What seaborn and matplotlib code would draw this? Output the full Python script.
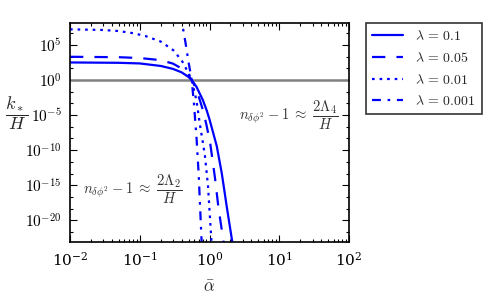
import numpy as np
import pandas as pd
import matplotlib
matplotlib.use("Agg")
import matplotlib.pyplot as plt
import matplotlib.ticker as mticker
import seaborn as sns

# ---- data (alpha, log10(k*/H)) ----
alpha_l01 = [0.01, 0.05, 0.1, 0.2, 0.3, 0.4, 0.5, 0.556, 0.65, 0.8, 0.91, 1.0, 1.27, 1.5, 1.77, 2.13, 2.2]
logk_l01 = [2.52, 2.47, 2.38, 2.02, 1.6, 1.1, 0.45, 0.0, -0.95, -2.8, -4.3, -5.6, -9.4, -13.3, -18.1, -23.2, -24.5]

alpha_l005 = [0.01, 0.05, 0.1, 0.2, 0.3, 0.4, 0.5, 0.556, 0.65, 0.8, 0.9, 1.02, 1.2, 1.34, 1.58, 1.65]
logk_l005 = [3.33, 3.27, 3.15, 2.85, 2.35, 1.65, 0.7, 0.0, -1.3, -4.2, -6.3, -8.9, -14.0, -18.1, -22.9, -24.5]

alpha_l001 = [0.01, 0.03, 0.05, 0.08, 0.12, 0.2, 0.3, 0.4, 0.5, 0.556, 0.65, 0.73, 0.8, 0.86, 0.95, 1.07, 1.1]
logk_l001 = [7.25, 7.15, 7.0, 6.7, 6.3, 5.5, 4.3, 2.8, 1.0, 0.0, -2.9, -6.4, -8.8, -10.8, -15.0, -23.2, -24.5]

alpha_l0001 = [0.38, 0.42, 0.45, 0.5, 0.556, 0.6, 0.655, 0.7, 0.77, 0.8]
logk_l0001 = [9.5, 7.2, 5.5, 2.6, 0.0, -3.5, -8.6, -13.5, -23.0, -25.0]

labels = [r"$\lambda\, =\, 0.1$", r"$\lambda\, =\, 0.05$", r"$\lambda\, =\, 0.01$", r"$\lambda\, =\, 0.001$"]
styles = ["-", (0, (6, 5)), (0, (1.2, 2.2)), (0, (4, 3, 1.2, 3))]
series = [(alpha_l01, logk_l01), (alpha_l005, logk_l005), (alpha_l001, logk_l001), (alpha_l0001, logk_l0001)]

y_major_exp = [-20, -15, -10, -5, 0, 5]

sns.set_style("ticks")
plt.rcParams["mathtext.fontset"] = "cm"
plt.rcParams["font.family"] = ["DejaVu Serif"]

fig = plt.figure(figsize=(4.86, 2.95), dpi=100)
ax = fig.add_axes([70 / 486, 1 - 242 / 295, (349 - 70) / 486, (242 - 23) / 295])

ax.axhline(1.0, color="#808080", lw=1.8, zorder=1)

for (a, lk), lab, ls in zip(series, labels, styles):
    df = pd.DataFrame({"alpha": a, "k": np.power(10.0, lk)})
    sns.lineplot(data=df, x="alpha", y="k", ax=ax, color="blue", lw=1.6,
                 linestyle=ls, label=lab, sort=False, estimator=None)

ax.set_xscale("log")
ax.set_yscale("log")
ax.set_xlim(1e-2, 1e2)
ax.set_ylim(10 ** -23.1, 10 ** 8.15)

ax.yaxis.set_major_locator(mticker.FixedLocator([10.0 ** e for e in y_major_exp]))
ax.yaxis.set_major_formatter(mticker.FixedFormatter([r"$10^{%d}$" % e for e in y_major_exp]))
minor_y = []
for e in range(-25, 10, 5):
    minor_y += [10.0 ** (e + 1.67), 10.0 ** (e + 3.33)]
ax.yaxis.set_minor_locator(mticker.FixedLocator(minor_y))
ax.yaxis.set_minor_formatter(mticker.NullFormatter())
ax.xaxis.set_major_locator(mticker.LogLocator(base=10, numticks=10))
ax.xaxis.set_major_formatter(mticker.LogFormatterMathtext())
ax.xaxis.set_minor_locator(mticker.LogLocator(base=10, subs=np.arange(2, 10), numticks=20))
ax.xaxis.set_minor_formatter(mticker.NullFormatter())

ax.tick_params(which="both", direction="in", top=True, right=True, labelsize=11, colors="black")
ax.tick_params(which="major", length=5, width=0.8, pad=6)
ax.tick_params(which="minor", length=2.5, width=0.8)
for s in ax.spines.values():
    s.set_visible(True)
    s.set_linewidth(1.2)
    s.set_color("black")

ax.set_xlabel(r"$\bar{\alpha}$", fontsize=12, labelpad=8)
ax.set_ylabel(r"$\dfrac{k_*}{H}$", fontsize=13, rotation=0, va="center", ha="center")
ax.yaxis.set_label_coords(-0.19, 0.59)

ax.text(0.785, 0.578, r"$n_{\delta\phi^2} - 1\; \approx\; \dfrac{2\Lambda_4}{H}$", transform=ax.transAxes,
        ha="center", va="center", fontsize=10.5, color="#333333")
ax.text(0.225, 0.24, r"$n_{\delta\phi^2} - 1\; \approx\; \dfrac{2\Lambda_2}{H}$", transform=ax.transAxes,
        ha="center", va="center", fontsize=10.5, color="#333333")

leg = ax.legend(loc="upper left", bbox_to_anchor=(1.061, 1.0), borderaxespad=0, fontsize=10,
                frameon=True, fancybox=False, handlelength=2.2, handletextpad=0.9, labelspacing=0.55,
                borderpad=0.45)
leg.get_frame().set_edgecolor("black")
leg.get_frame().set_linewidth(1.2)

fig.savefig("out.png", dpi=100)
